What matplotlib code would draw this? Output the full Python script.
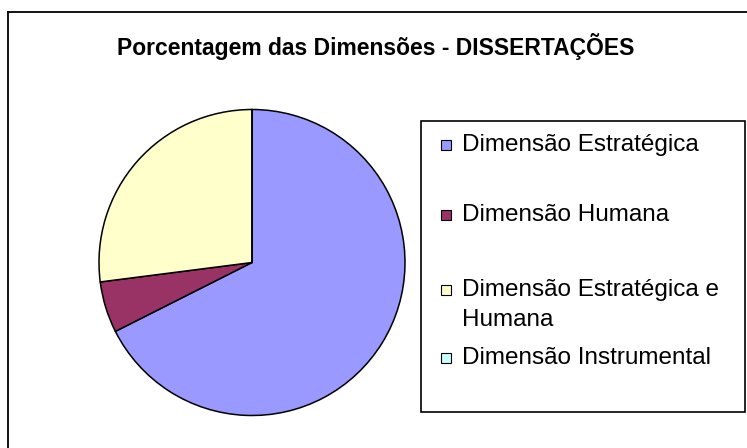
import matplotlib
matplotlib.use('Agg')
import matplotlib.pyplot as plt
from matplotlib.patches import Rectangle
from matplotlib.lines import Line2D

plt.rcParams['font.family'] = ['Liberation Sans', 'DejaVu Sans']

# data
title = 'Porcentagem das Dimensões - DISSERTAÇÕES'
labels = ['Dimensão Estratégica', 'Dimensão Humana',
          'Dimensão Estratégica e\nHumana', 'Dimensão Instrumental']
values = [25, 2, 10, 0]
colors = ['#9999FF', '#993366', '#FFFFCC', '#CCFFFF']

W, H = 747, 448
def fx(px): return px / W
def fy(py): return 1 - py / H

fig = plt.figure(figsize=(W / 100, H / 100), dpi=100)
fig.patch.set_facecolor('white')

# chart border (cut at right and bottom)
fig.add_artist(Line2D([fx(8), fx(8)], [fy(12), 0], color='black', lw=1.3))
fig.add_artist(Line2D([fx(8), 1], [fy(12), fy(12)], color='black', lw=1.3))

fig.text(fx(376), fy(47), title, ha='center', va='center',
         fontsize=16.5, fontweight='bold')

# pie
cx, cy, r = 252, 262.5, 153
S = 340
ax = fig.add_axes([fx(cx - S / 2), fy(cy + S / 2), S / W, S / H])
wedges, _ = ax.pie(values, colors=colors, startangle=90, counterclock=False,
                   radius=1.0,
                   wedgeprops=dict(edgecolor='black', linewidth=1.1))
lim = S / (2 * r)
ax.set_xlim(-lim, lim)
ax.set_ylim(-lim, lim)
ax.set_aspect('equal')
ax.axis('off')

# legend box
lx0, ly0, lx1, ly1 = 421, 121, 745, 412
fig.add_artist(Rectangle((fx(lx0), fy(ly1)), (lx1 - lx0) / W, (ly1 - ly0) / H,
                         facecolor='white', edgecolor='black', lw=1.2,
                         transform=fig.transFigure))
rows = [145, 215, 290, 358]
ms = 10
fs = 17.5
for lab, col, ry in zip(labels, colors, rows):
    fig.add_artist(Rectangle((fx(441), fy(ry + ms / 2)), ms / W, ms / H,
                             facecolor=col, edgecolor='black', lw=0.8,
                             transform=fig.transFigure))
    fig.text(fx(462), fy(ry), lab.split('\n')[0], ha='left', va='center',
             fontsize=fs)
    if '\n' in lab:
        fig.text(fx(462), fy(ry + 30), lab.split('\n')[1], ha='left',
                 va='center', fontsize=fs)

fig.savefig('out.png', dpi=100)
